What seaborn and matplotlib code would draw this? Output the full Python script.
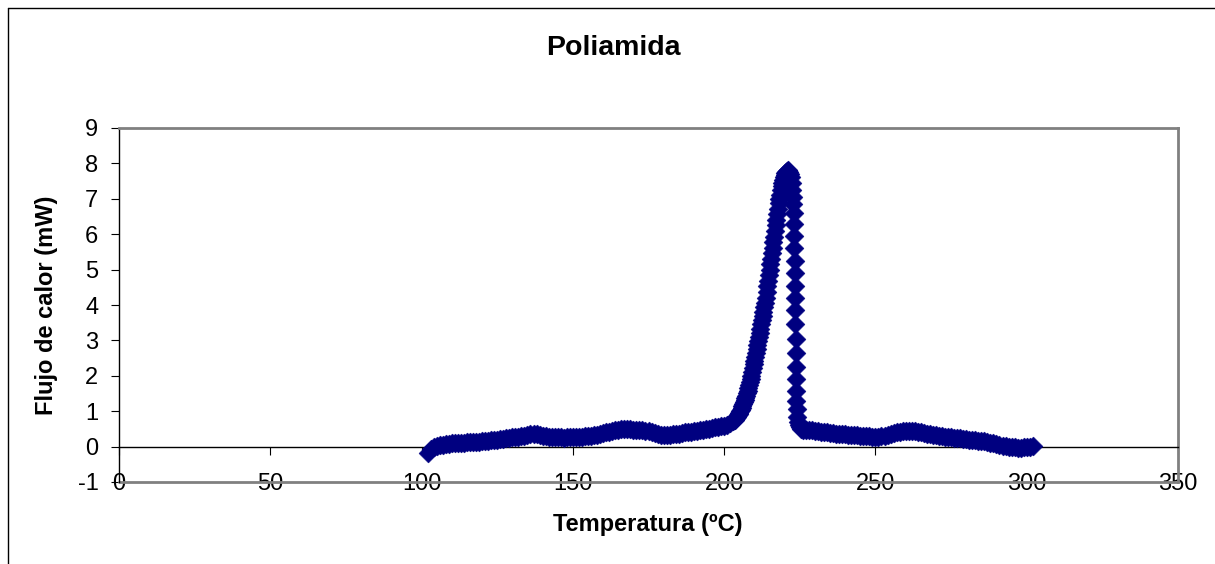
import matplotlib
matplotlib.use("Agg")
import matplotlib.pyplot as plt
from matplotlib.lines import Line2D
import seaborn as sns
import pandas as pd

# ---------------- data ----------------
temp_base = [102, 103, 104, 105, 106, 107, 108, 109, 110, 111, 112, 113, 114, 115, 116, 117, 118, 119,
             120, 121, 122, 123, 124, 125, 126, 127, 128, 129, 130, 131, 132, 133, 134, 135, 136, 137,
             138, 139, 140, 141, 142, 143, 144, 145, 146, 147, 148, 149, 150, 151, 152, 153, 154, 155,
             156, 157, 158, 159, 160, 161, 162, 163, 164, 165, 166, 167, 168, 169, 170, 171, 172, 173,
             174, 175, 176, 177, 178, 179, 180, 181, 182, 183, 184, 185, 186, 187, 188, 189, 190, 191,
             192, 193, 194, 195, 196, 197, 198, 199, 200, 201, 202, 203]
flow_base = [-0.17, -0.08, -0.02, 0.02, 0.04, 0.05, 0.07, 0.08, 0.09, 0.10, 0.10, 0.11, 0.11, 0.12, 0.12,
             0.13, 0.14, 0.14, 0.15, 0.16, 0.17, 0.18, 0.19, 0.20, 0.21, 0.22, 0.24, 0.25, 0.26, 0.27,
             0.28, 0.30, 0.31, 0.33, 0.35, 0.37, 0.35, 0.33, 0.31, 0.30, 0.28, 0.27, 0.27, 0.28, 0.26,
             0.25, 0.27, 0.26, 0.26, 0.27, 0.28, 0.28, 0.29, 0.30, 0.31, 0.33, 0.34, 0.36, 0.38, 0.40,
             0.42, 0.44, 0.46, 0.48, 0.49, 0.50, 0.50, 0.49, 0.48, 0.47, 0.46, 0.46, 0.45, 0.44, 0.41,
             0.38, 0.36, 0.34, 0.33, 0.33, 0.34, 0.35, 0.36, 0.37, 0.38, 0.40, 0.41, 0.42, 0.44, 0.45,
             0.47, 0.48, 0.50, 0.51, 0.52, 0.54, 0.55, 0.57, 0.59, 0.62, 0.66, 0.72]

temp_rise = [203.25, 203.5, 203.75, 204, 204.25, 204.5, 204.75, 205, 205.25, 205.5, 205.75, 206,
             206.25, 206.5, 206.75, 207, 207.25, 207.5, 207.75, 208, 208.25, 208.5, 208.75, 209,
             209.25, 209.5, 209.75, 210, 210.25, 210.5, 210.75, 211, 211.25, 211.5, 211.75, 212,
             212.25, 212.5, 212.75, 213, 213.25, 213.5, 213.75, 214, 214.25, 214.5, 214.75, 215,
             215.25, 215.5, 215.75, 216, 216.25, 216.5, 216.75, 217, 217.25, 217.5, 217.75, 218,
             218.25, 218.5, 218.75, 219, 219.25, 219.5, 219.75, 220, 220.25, 220.5, 220.75, 221,
             221.25, 221.5, 221.75, 222]
flow_rise = [0.74, 0.76, 0.79, 0.82, 0.85, 0.88, 0.92, 0.96, 1.00, 1.04, 1.09, 1.14,
             1.19, 1.25, 1.31, 1.37, 1.44, 1.51, 1.58, 1.66, 1.74, 1.82, 1.91, 2.00,
             2.10, 2.21, 2.32, 2.43, 2.54, 2.65, 2.76, 2.87, 2.98, 3.09, 3.21, 3.33,
             3.45, 3.57, 3.69, 3.81, 3.93, 4.05, 4.21, 4.37, 4.53, 4.69, 4.85, 5.00,
             5.16, 5.31, 5.47, 5.62, 5.78, 5.93, 6.09, 6.25, 6.41, 6.56, 6.72, 6.87,
             7.00, 7.12, 7.24, 7.36, 7.46, 7.54, 7.61, 7.67, 7.72, 7.76, 7.79, 7.80,
             7.79, 7.76, 7.70, 7.62]

temp_fall = [222.3, 222.5, 222.7, 222.9, 223.0, 223.1, 223.2, 223.25, 223.3, 223.35, 223.4, 223.45,
             223.5, 223.55, 223.6, 223.65, 223.7, 223.75, 223.8, 223.9, 224.0, 224.1, 224.3, 224.6,
             225.0, 225.5, 226]
flow_fall = [7.45, 7.25, 7.05, 6.85, 6.60, 6.30, 5.95, 5.60, 5.25, 4.90, 4.55, 4.20,
             3.85, 3.45, 3.05, 2.65, 2.25, 1.90, 1.58, 1.30, 1.06, 0.85, 0.70, 0.60,
             0.54, 0.50, 0.48]

temp_tail = [227, 228, 229, 230, 231, 232, 233, 234, 235, 236, 237, 238, 239, 240, 241, 242, 243, 244,
             245, 246, 247, 248, 249, 250, 251, 252, 253, 254, 255, 256, 257, 258, 259, 260, 261, 262,
             263, 264, 265, 266, 267, 268, 269, 270, 271, 272, 273, 274, 275, 276, 277, 278, 279, 280,
             281, 282, 283, 284, 285, 286, 287, 288, 289, 290, 291, 292, 293, 294, 295, 296, 297, 298,
             299, 300, 301, 302]
flow_tail = [0.47, 0.47, 0.46, 0.45, 0.44, 0.42, 0.41, 0.40, 0.39, 0.38, 0.37, 0.36, 0.35, 0.35, 0.34,
             0.33, 0.32, 0.32, 0.31, 0.31, 0.30, 0.29, 0.28, 0.27, 0.27, 0.29, 0.31, 0.34, 0.37, 0.39,
             0.41, 0.42, 0.43, 0.44, 0.44, 0.45, 0.44, 0.42, 0.40, 0.38, 0.36, 0.35, 0.33, 0.32, 0.30,
             0.29, 0.28, 0.27, 0.26, 0.25, 0.24, 0.23, 0.22, 0.21, 0.20, 0.19, 0.18, 0.17, 0.16, 0.15,
             0.13, 0.11, 0.09, 0.07, 0.05, 0.03, 0.01, 0.00, -0.01, -0.02, -0.03, -0.03, -0.02, -0.01,
             0.00, 0.01]

x_ticks = [0, 50, 100, 150, 200, 250, 300, 350]
y_ticks = [-1, 0, 1, 2, 3, 4, 5, 6, 7, 8, 9]

title = "Poliamida"
x_label = "Temperatura (ºC)"
y_label = "Flujo de calor (mW)"

df = pd.DataFrame({
    "T": temp_base + temp_rise + temp_fall + temp_tail,
    "Q": flow_base + flow_rise + flow_fall + flow_tail,
})

# ---------------- style ----------------
sns.set_style("white")
plt.rcParams["font.family"] = ["Liberation Sans", "DejaVu Sans"]
plt.rcParams["text.color"] = "black"

W, H = 1215, 564
fig = plt.figure(figsize=(W / 100, H / 100), dpi=100)
fig.patch.set_facecolor("white")

L, R, T_, B = 119, 1178, 128, 482
ax = fig.add_axes([L / W, 1 - B / H, (R - L) / W, (B - T_) / H])

navy = "#000080"
sns.scatterplot(data=df, x="T", y="Q", marker="D", s=92, color=navy,
                edgecolor=navy, linewidth=0.4, ax=ax, legend=False, zorder=5)

ax.set_xlim(0, 350)
ax.set_ylim(-1, 9)
ax.set_xticks(x_ticks)
ax.set_yticks(y_ticks)
ax.set_xticklabels([str(v) for v in x_ticks])
ax.set_yticklabels([str(v) for v in y_ticks])
ax.set_xlabel("")
ax.set_ylabel("")

gray = "#808080"
for side in ("top", "right"):
    ax.spines[side].set_color(gray)
    ax.spines[side].set_linewidth(2)
ax.spines["left"].set_color("black")
ax.spines["left"].set_linewidth(1)
ax.spines["bottom"].set_position(("data", 0))
ax.spines["bottom"].set_color("black")
ax.spines["bottom"].set_linewidth(1)
ax.axhline(-1, color=gray, lw=2, clip_on=False, zorder=1)

ax.tick_params(axis="both", which="major", direction="out", length=5.8, width=0.8,
               color="black", labelsize=17, labelcolor="black")
ax.tick_params(axis="x", pad=13, bottom=True)
ax.tick_params(axis="y", pad=9, left=True)

fig.text(613 / W, 1 - 48 / H, title, ha="center", va="center", fontsize=20.5,
         fontweight="bold", color="black")
fig.text(648 / W, 1 - 524 / H, x_label, ha="center", va="center", fontsize=17,
         fontweight="bold", color="black")
fig.text(47 / W, 1 - 305 / H, y_label, ha="center", va="center", rotation=90,
         fontsize=17, fontweight="bold", color="black")

# outer chart border (left and top edges visible)
fig.add_artist(Line2D([7.5 / W, 7.5 / W], [0, 1 - 7.5 / H], color="black", lw=1,
                      transform=fig.transFigure))
fig.add_artist(Line2D([7.5 / W, 1], [1 - 7.5 / H, 1 - 7.5 / H], color="black", lw=1,
                      transform=fig.transFigure))

fig.savefig("out.png", dpi=100)
